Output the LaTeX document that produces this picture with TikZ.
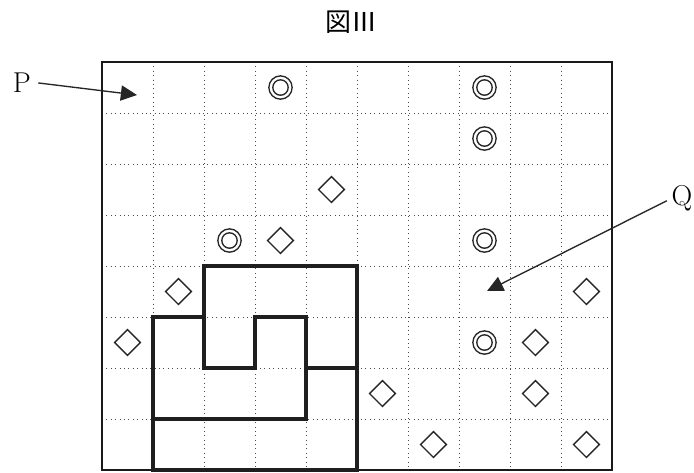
\documentclass[tikz,border=0pt]{standalone}
\usepackage{fontspec}
\newfontfamily\cjkfont{Noto Sans CJK JP}
\usetikzlibrary{arrows.meta}
\begin{document}
\begin{tikzpicture}[x=1cm,y=1cm,
  gridline/.style={black!70, line width=0.45pt, dotted},
  frame/.style={black!90, line width=1.5pt},
  region/.style={black!88, line width=2.2pt, line join=miter, line cap=rect},
  dcirc/.style={circle, draw=black!85, line width=0.75pt, minimum size=13pt, inner sep=0pt,
    append after command={\pgfextra{\draw[black!85, line width=0.75pt] (\tikzlastnode.center) circle[radius=4.3pt];}}},
  diam/.style={draw=black!85, line width=0.75pt, inner sep=0pt, minimum size=10.2pt, rotate=45},
  lbl/.style={font=\fontsize{16}{16}\selectfont, inner sep=1pt},
  pointer/.style={black!85, line width=0.75pt, -{Triangle[length=9pt,width=8.5pt]}}
]
\useasboundingbox (-2,1.216) rectangle (11.608,-8.039);
% grid
\foreach \c in {1,...,9} \draw[gridline] (\c,0) -- (\c,-8);
\foreach \r in {1,...,7} \draw[gridline] (0,-\r) -- (10,-\r);
\draw[frame] (0,0) rectangle (10,-8);
% thick region
\draw[region] (2,-4) -- (5,-4) -- (5,-8) -- (1,-8) -- (1,-5) -- (2,-5) -- cycle;
\draw[region] (2,-5) -- (2,-6) -- (3,-6) -- (3,-5) -- (4,-5) -- (4,-7);
\draw[region] (1,-7) -- (4,-7);
\draw[region] (4,-6) -- (5,-6);
% double circles
\node[dcirc] (c1) at (3.5,-0.5) {};
\node[dcirc] (c2) at (7.5,-0.5) {};
\node[dcirc] (c3) at (7.5,-1.5) {};
\node[dcirc] (c4) at (2.5,-3.5) {};
\node[dcirc] (c5) at (7.5,-3.5) {};
\node[dcirc] (c6) at (7.5,-5.5) {};
% diamonds
\node[diam] (d1) at (4.5,-2.5) {};
\node[diam] (d2) at (3.5,-3.5) {};
\node[diam] (d3) at (1.5,-4.5) {};
\node[diam] (d4) at (9.5,-4.5) {};
\node[diam] (d5) at (0.5,-5.5) {};
\node[diam] (d6) at (8.5,-5.5) {};
\node[diam] (d7) at (5.5,-6.5) {};
\node[diam] (d8) at (8.5,-6.5) {};
\node[diam] (d9) at (6.5,-7.5) {};
\node[diam] (d10) at (9.5,-7.5) {};
% title
\node[font=\cjkfont\fontsize{14.5}{14.5}\selectfont] (title) at (4.9,0.78) {図Ⅲ};
% labels and pointers
\node[lbl] (P) at (-1.569,-0.41) {P};
\coordinate (Ptip) at (0.686,-0.647);
\draw[pointer] (P.east) ++(0.1,0) -- (Ptip);
\node[lbl] (Q) at (11.37,-2.67) {Q};
\coordinate (Qtip) at (7.55,-4.49);
\draw[pointer] (Q.west) ++(-0.05,-0.05) -- (Qtip);
\end{tikzpicture}
\end{document}
